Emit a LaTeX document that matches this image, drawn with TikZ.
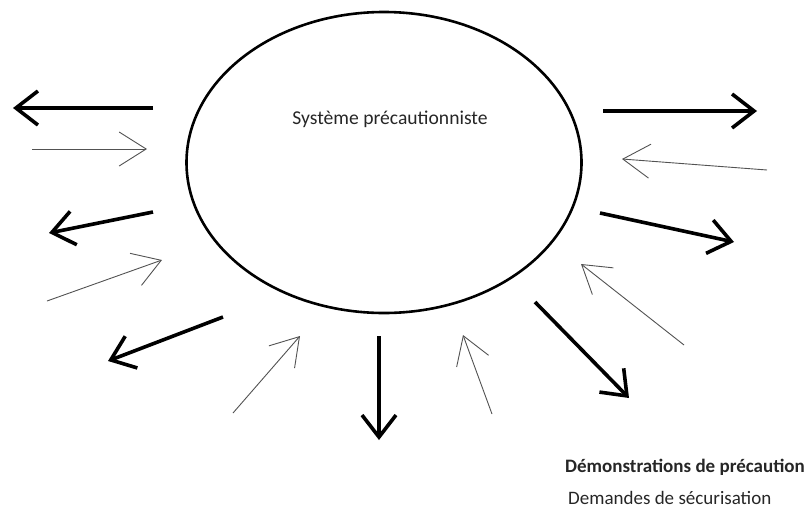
\documentclass[tikz,border=0pt]{standalone}
\usepackage{fontspec}
\setmainfont{Carlito}
\usetikzlibrary{arrows.meta,shapes.geometric}

\begin{document}
\begin{tikzpicture}
[
    x=1pt, y=-1pt,
    demo/.style={line width=3.6pt, -{Straight Barb[length=22pt,width=34pt]}},
    demand/.style={line width=0.9pt, black!68, -{Straight Barb[length=27pt,width=34pt]}},
    caption/.style={font=\fontsize{19}{22}\selectfont, text=black!85, inner sep=0pt},
]
\useasboundingbox (0,0) rectangle (808,512);

\node [draw, ellipse, line width=2.6pt, minimum width=395pt, minimum height=301pt, inner sep=0pt] (sys) at (384,162.5) {};
\node [caption, font=\fontsize{19.6}{22}\selectfont] (systxt) at (390,119) {Système précautionniste};

\coordinate (d1s) at (153,108);  \coordinate (d1e) at (13,108);
\coordinate (d2s) at (603,111);  \coordinate (d2e) at (757,111);
\coordinate (d3s) at (153,212);  \coordinate (d3e) at (49,233);
\coordinate (d4s) at (600,213);  \coordinate (d4e) at (734,242);
\coordinate (d5s) at (223,317);  \coordinate (d5e) at (108,361);
\coordinate (d6s) at (379,336);  \coordinate (d6e) at (379,440);
\coordinate (d7s) at (535,302);  \coordinate (d7e) at (629,398);

\coordinate (m1s) at (32,149);   \coordinate (m1e) at (147,149);
\coordinate (m2s) at (767,170);  \coordinate (m2e) at (622,159);
\coordinate (m3s) at (47,301);   \coordinate (m3e) at (162,260);
\coordinate (m4s) at (684,345);  \coordinate (m4e) at (581,264);
\coordinate (m5s) at (233,413);  \coordinate (m5e) at (300,336);
\coordinate (m6s) at (492,414);  \coordinate (m6e) at (463,335);

\draw [demo] (d1s) -- (d1e);
\draw [demo] (d2s) -- (d2e);
\draw [demo] (d3s) -- (d3e);
\draw [demo] (d4s) -- (d4e);
\draw [demo] (d5s) -- (d5e);
\draw [demo] (d6s) -- (d6e);
\draw [demo] (d7s) -- (d7e);

\draw [demand] (m1s) -- (m1e);
\draw [demand] (m2s) -- (m2e);
\draw [demand] (m3s) -- (m3e);
\draw [demand] (m4s) -- (m4e);
\draw [demand] (m5s) -- (m5e);
\draw [demand] (m6s) -- (m6e);

\node [caption, anchor=west, font=\fontsize{19}{22}\selectfont\bfseries] (demolbl) at (565,467) {Démonstrations de précaution};
\node [caption, anchor=west] (demandlbl) at (568,498) {Demandes de sécurisation};
\end{tikzpicture}
\end{document}
